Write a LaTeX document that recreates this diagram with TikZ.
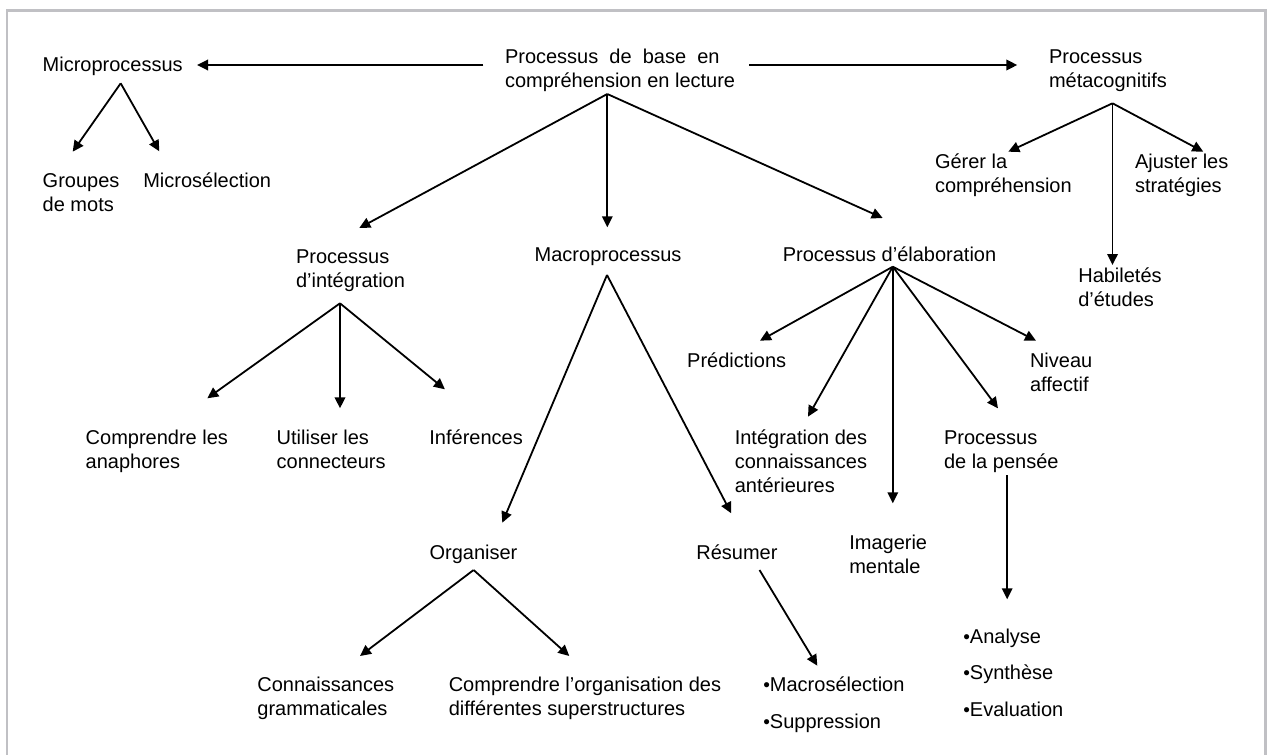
\documentclass[tikz,border=0pt]{standalone}
\usepackage{fontspec}
\setmainfont{Liberation Sans}
\usetikzlibrary{arrows.meta}
\definecolor{framegray}{RGB}{192,192,196}
\begin{document}
\begin{tikzpicture}[x=1pt,y=-1pt,
  txt/.style={anchor=base west, inner sep=0pt, outer sep=0pt, align=left,
    font=\fontsize{20pt}{23.8pt}\selectfont},
  lst/.style={txt, font=\fontsize{20pt}{36.5pt}\selectfont},
  arr/.style={line width=1.8pt, -{Triangle[length=11pt,width=10.5pt]}},
  ln/.style={line width=1.8pt}]
\useasboundingbox (0,0) rectangle (1267,755);
% frame
\draw[framegray, line width=2.5pt] (7,760) -- (7,10.5) -- (1265.5,10.5) -- (1265.5,760);
\newcommand{\bul}{{\fontsize{19pt}{19pt}\selectfont •}}
% nodes (anchor = baseline of the last line)
\node[txt] (root) at (505,87.3) {Processus\ \ de\ \ base\ \ en\\compréhension en lecture};
\node[txt] (micro) at (42.7,71.7) {Microprocessus};
\node[txt] (meta) at (1049,87.3) {Processus\\métacognitifs};
\node[txt] (grp) at (42.7,211.5) {Groupes\\de mots};
\node[txt] (msel) at (143.3,187.7) {Microsélection};
\node[txt] (gerer) at (935,192) {Gérer la\\compréhension};
\node[txt] (ajust) at (1135,192) {Ajuster les\\stratégies};
\node[txt] (integ) at (296,287) {Processus\\d’intégration};
\node[txt] (macro) at (534.7,261.7) {Macroprocessus};
\node[txt] (elab) at (782.8,261.7) {Processus d’élaboration};
\node[txt] (habil) at (1078.3,306.3) {Habiletés\\d’études};
\node[txt] (pred) at (687.2,367.3) {Prédictions};
\node[txt] (niveau) at (1030,391.3) {Niveau\\affectif};
\node[txt] (anaph) at (85.7,468.2) {Comprendre les\\anaphores};
\node[txt] (conn) at (276.7,468.2) {Utiliser les\\connecteurs};
\node[txt] (infer) at (429.4,444.3) {Inférences};
\node[txt] (intconn) at (734.8,492.2) {Intégration des\\connaissances\\antérieures};
\node[txt] (pensee) at (944,468.2) {Processus\\de la pensée};
\node[txt] (imag) at (849.3,573) {Imagerie\\mentale};
\node[txt] (organ) at (429.6,559.3) {Organiser};
\node[txt] (resum) at (696.4,559.3) {Résumer};
\node[txt] (gram) at (257.4,715.7) {Connaissances\\grammaticales};
\node[txt] (superst) at (448.8,715.7) {Comprendre l’organisation des\\différentes superstructures};
\node[lst] (macsel) at (763.3,728.2) {\bul Macrosélection\\\bul Suppression};
\node[lst] (analyse) at (963.3,716.3) {\bul Analyse\\\bul Synthèse\\\bul Evaluation};
% connector points
\coordinate (rootL) at (483.3,65);
\coordinate (rootR) at (749.3,65);
\coordinate (microT) at (197,65);
\coordinate (metaT) at (1017.3,65);
\coordinate (rootA) at (607.3,94);
\coordinate (integT) at (359.3,228);
\coordinate (macroT) at (607.3,227.3);
\coordinate (elabT) at (882.7,218);
\coordinate (microA) at (120.7,83.3);
\coordinate (grpT) at (72.7,151.7);
\coordinate (mselT) at (159.3,151.3);
\coordinate (metaA) at (1112.5,103.3);
\coordinate (gererT) at (1008.3,151.7);
\coordinate (ajustT) at (1203.3,151.7);
\coordinate (habilT) at (1112.5,265);
\coordinate (integA) at (340,303.3);
\coordinate (anaphT) at (207.3,398.3);
\coordinate (connT) at (340,408.3);
\coordinate (inferT) at (444.9,389.3);
\coordinate (macroA) at (607,275);
\coordinate (organT) at (502.3,522.7);
\coordinate (resumT) at (731.2,513.3);
\coordinate (elabA) at (892.8,266.7);
\coordinate (predT) at (760,340.7);
\coordinate (intconnT) at (808,416.7);
\coordinate (imagT) at (892.8,503.3);
\coordinate (penseeT) at (998,408.3);
\coordinate (niveauT) at (1036,340.7);
\coordinate (organA) at (473.6,570);
\coordinate (gramT) at (360,656);
\coordinate (superstT) at (569.3,656);
\coordinate (resumA) at (759.5,570);
\coordinate (macselT) at (817.3,665.7);
\coordinate (penseeA) at (1007.2,475);
\coordinate (analyseT) at (1007.2,599.3);
% connectors
\draw[arr] (rootL) -- (microT);
\draw[arr] (rootR) -- (metaT);
\draw[arr] (rootA) -- (integT);
\draw[arr] (rootA) -- (macroT);
\draw[arr] (rootA) -- (elabT);
\draw[arr] (microA) -- (grpT);
\draw[arr] (microA) -- (mselT);
\draw[arr] (metaA) -- (gererT);
\draw[arr] (metaA) -- (ajustT);
\draw[arr] (metaA) -- (habilT);
\draw[arr] (integA) -- (anaphT);
\draw[arr] (integA) -- (connT);
\draw[arr] (integA) -- (inferT);
\draw[arr] (macroA) -- (organT);
\draw[arr] (macroA) -- (resumT);
\draw[arr] (elabA) -- (predT);
\draw[arr] (elabA) -- (intconnT);
\draw[arr] (elabA) -- (imagT);
\draw[arr] (elabA) -- (penseeT);
\draw[arr] (elabA) -- (niveauT);
\draw[arr] (organA) -- (gramT);
\draw[arr] (organA) -- (superstT);
\draw[arr] (resumA) -- (macselT);
\draw[arr] (penseeA) -- (analyseT);
\end{tikzpicture}
\end{document}
